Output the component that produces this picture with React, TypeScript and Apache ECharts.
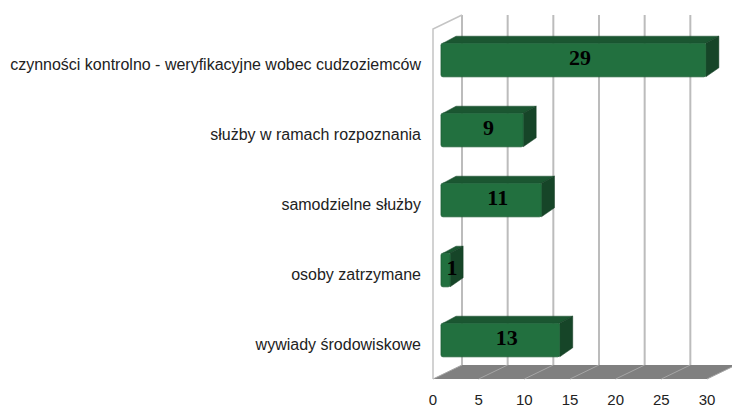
import React, { useEffect, useRef } from "react";
import * as echarts from "echarts";

const categories = [
  "czynności kontrolno - weryfikacyjne wobec cudzoziemców",
  "służby w ramach rozpoznania",
  "samodzielne służby",
  "osoby zatrzymane",
  "wywiady środowiskowe",
];
const values = [29, 9, 11, 1, 13];
const xTicks = [0, 5, 10, 15, 20, 25, 30];

const FRONT = "#22703f";
const TOP = "#1b5631";
const SIDE = "#164528";

export default function App() {
  const ref = useRef<HTMLDivElement>(null);
  useEffect(() => {
    if (!ref.current) return;
    const chart = echarts.init(ref.current, null, { renderer: "svg" });
    const DX = 29, DY = -14; // depth of the 3D box
    const option: any = {
      animation: false,
      backgroundColor: "#ffffff",
      grid: { left: 433, right: 25, top: 29, bottom: 26, containLabel: false },
      xAxis: {
        type: "value",
        min: 0,
        max: 30,
        interval: 5,
        axisLine: { show: false },
        axisTick: { show: false },
        splitLine: { show: false },
        axisLabel: { fontSize: 15, color: "#222", fontFamily: "Liberation Sans", margin: 13 },
      },
      yAxis: {
        type: "category",
        inverse: true,
        data: categories,
        axisLine: { show: false },
        axisTick: { show: false },
        axisLabel: { fontSize: 16, color: "#222", fontFamily: "Liberation Sans", margin: 12 },
      },
      series: [
        {
          type: "custom",
          z: 1,
          silent: true,
          data: [[0, 0]],
          renderItem: (params: any, api: any) => {
            const cs = params.coordSys;
            const yF = cs.y + cs.height;
            const yTop = cs.y;
            const children: any[] = [];
            const x0 = api.coord([0, 0])[0];
            const x30 = api.coord([30, 0])[0];
            // floor
            children.push({
              type: "polygon",
              shape: { points: [[x0, yF], [x30, yF], [x30 + DX, yF + DY], [x0 + DX, yF + DY]] },
              style: { fill: "#808080" },
            });
            xTicks.forEach((t) => {
              const x = api.coord([t, 0])[0];
              children.push({
                type: "line",
                shape: { x1: x, y1: yF, x2: x + DX, y2: yF + DY },
                style: { stroke: "#a6a6a6", lineWidth: 1 },
              });
              children.push({
                type: "line",
                shape: { x1: x + DX, y1: yTop + DY, x2: x + DX, y2: yF + DY },
                style: { stroke: "#bcbcbc", lineWidth: 2 },
              });
            });
            // left wall
            children.push({
              type: "polyline",
              shape: { points: [[x0, yF], [x0, yTop], [x0 + DX, yTop + DY]] },
              style: { stroke: "#c4c4c4", lineWidth: 1.5, fill: "none" },
            });
            return { type: "group", children };
          },
        },
        {
          type: "custom",
          z: 2,
          silent: true,
          data: values.map((v, i) => [v, i]),
          encode: { x: 0, y: 1 },
          renderItem: (params: any, api: any) => {
            const v = api.value(0);
            const c = api.value(1);
            const p0 = api.coord([0, c]);
            const p1 = api.coord([v, c]);
            const band = api.size([0, 1])[1];
            const h = band * 0.48;
            const ox = 8, oy = -4, dx = 13, dy = -7;
            const x0 = p0[0] + ox;
            const x1 = p1[0] + ox;
            const yc = p0[1] + oy;
            const yt = yc - h / 2;
            const yb = yc + h / 2;
            return {
              type: "group",
              children: [
                {
                  type: "polygon",
                  shape: { points: [[x0 + 2, yt], [x1, yt], [x1 + dx, yt + dy], [x0 + dx + 2, yt + dy]] },
                  style: { fill: TOP, stroke: "#174a2a", lineWidth: 0.5 },
                },
                {
                  type: "polygon",
                  shape: { points: [[x1, yt], [x1 + dx, yt + dy], [x1 + dx, yb + dy - 2], [x1, yb]] },
                  style: { fill: SIDE, stroke: "#133d23", lineWidth: 0.5 },
                },
                {
                  type: "rect",
                  shape: { x: x0, y: yt, width: x1 - x0, height: h, r: 2 },
                  style: { fill: FRONT, stroke: "#1c5e35", lineWidth: 0.8 },
                },
                {
                  type: "text",
                  x: (x0 + x1 + dx) / 2,
                  y: (yt + dy + yb) / 2 + 1,
                  style: {
                    text: String(v),
                    font: 'bold 22px "Liberation Serif"',
                    fill: "#000",
                    align: "center",
                    verticalAlign: "middle",
                  },
                },
              ],
            };
          },
        },
      ],
    };
    chart.setOption(option);
    return () => chart.dispose();
  }, []);
  return (
    <div
      ref={ref}
      style={{ position: "fixed", left: 0, top: 0, width: 732, height: 407 }}
    />
  );
}
